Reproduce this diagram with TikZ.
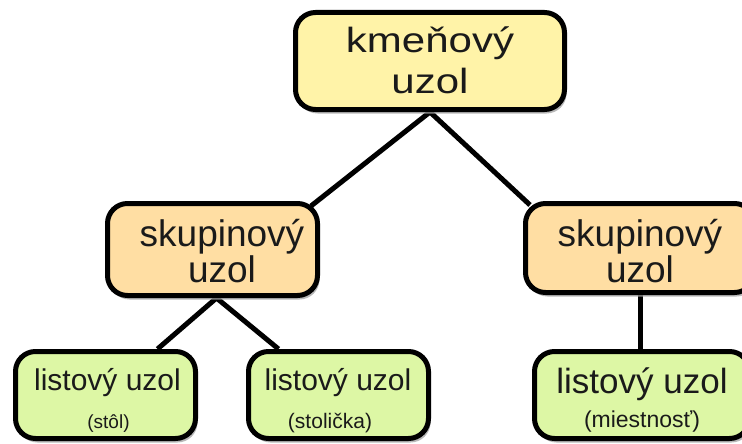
\documentclass[tikz,border=0pt]{standalone}
\usepackage{fontspec}
\setmainfont{Liberation Sans}
\usetikzlibrary{calc,shadows}
\definecolor{rootfill}{HTML}{FFF3A8}
\definecolor{groupfill}{HTML}{FFDEA3}
\definecolor{leaffill}{HTML}{DDF7A5}
\definecolor{txt}{HTML}{1A1A1A}
\pgfdeclarelayer{background}
\pgfsetlayers{background,main}
\tikzset{
  box/.style={draw=black, line width=5pt, rounded corners=20pt, inner sep=0pt,
    drop shadow={shadow xshift=2pt, shadow yshift=-4pt, fill=gray!70, opacity=0.8}},
  rootbox/.style={box, fill=rootfill},
  groupbox/.style={box, fill=groupfill},
  leafbox/.style={box, fill=leaffill},
  lbl/.style={anchor=base, align=center, text=txt, inner sep=0pt},
  conn/.style={draw=black, line width=5pt},
}
\begin{document}
\begin{tikzpicture}[x=1pt,y=-1pt]
\useasboundingbox (0,0) rectangle (742,444);
% boxes
\node[rootbox, minimum width=269pt, minimum height=97pt] (root) at (430,61) {};
\node[groupbox, minimum width=210pt, minimum height=92pt] (lg) at (212.5,249.5) {};
\node[groupbox, minimum width=229pt, minimum height=89pt] (rg) at (640,248) {};
\node[leafbox, minimum width=180pt, minimum height=87pt] (l1) at (105.5,395) {};
\node[leafbox, minimum width=180pt, minimum height=87pt] (l2) at (338.5,395) {};
\node[leafbox, minimum width=215pt, minimum height=87pt] (l3) at (642,395) {};
% texts (base = baseline of last line)
\node[lbl, font=\fontsize{35}{40}\selectfont, xscale=1.2, transform shape] (roott) at (430,93) {kmeňový\\uzol};
\node[lbl, font=\fontsize{37}{31}\selectfont] (lgt) at (222,282) {skupinový\\uzol};
\node[lbl, font=\fontsize{37}{31}\selectfont] (rgt) at (640,282) {skupinový\\uzol};
\node[lbl, font=\fontsize{30}{34}\selectfont] (l1t) at (107.5,390) {listový uzol};
\node[lbl, font=\fontsize{19}{22}\selectfont] (l1s) at (108.5,428) {(stôl)};
\node[lbl, font=\fontsize{30}{34}\selectfont] (l2t) at (338,390) {listový uzol};
\node[lbl, font=\fontsize{21}{24}\selectfont] (l2s) at (330,428) {(stolička)};
\node[lbl, font=\fontsize{35}{38}\selectfont] (l3t) at (642,393) {listový uzol};
\node[lbl, font=\fontsize{23}{26}\selectfont] (l3s) at (642,427) {(miestnosť)};
% connectors
\begin{pgfonlayer}{background}
\draw[conn] (root.south) -- ($(lg.north east)+(-9,5)$);
\draw[conn] (root.south) -- ($(rg.north west)+(7,4)$);
\draw[conn] ($(lg.south)+(4,0)$) -- ($(l1.north)+(52,0)$);
\draw[conn] ($(lg.south)+(4,0)$) -- ($(l2.north)+(-60,0)$);
\draw[conn] (rg.south) -- (rg.south |- l3.north);
\end{pgfonlayer}
\end{tikzpicture}
\end{document}
